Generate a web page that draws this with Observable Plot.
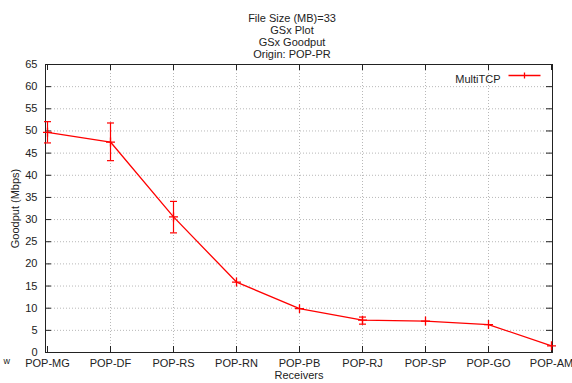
<!DOCTYPE html>
<html>
<head>
<meta charset="utf-8">
<script src="https://cdn.jsdelivr.net/npm/d3@7"></script>
<script src="https://cdn.jsdelivr.net/npm/@observablehq/plot@0.6"></script>
<style>
  html, body { margin: 0; padding: 0; background: #fff; }
  svg { display: block; }
</style>
</head>
<body>
<div id="chart"></div>
<script>
const receivers = ["POP-MG","POP-DF","POP-RS","POP-RN","POP-PB","POP-RJ","POP-SP","POP-GO","POP-AM"];
const goodput   = [49.7, 47.5, 30.6, 15.9, 9.9, 7.3, 7.1, 6.3, 1.5];
const errLow    = [47.3, 43.3, 27.0, 15.6, 9.6, 6.4, 6.8, 6.0, 1.3];
const errHigh   = [52.1, 51.8, 34.1, 16.2, 10.2, 8.0, 7.4, 6.6, 1.7];
const yTicks = d3.range(0, 66, 5);
const titleLines = ["File Size (MB)=33", "GSx Plot", "GSx Goodput", "Origin: POP-PR"];
const seriesName = "MultiTCP";

const data = receivers.map((r, i) => ({r, v: goodput[i], lo: errLow[i], hi: errHigh[i]}));

const W = 572, H = 383;
const mL = 45, mR = 20, mT = 64, mB = 31;
const fw = W - mL - mR, fh = H - mT - mB;
const red = "#ff0000";
const grid = "#b8b8b8";
const frameCol = "#222";

const capSymbol = { draw(ctx, size) { ctx.moveTo(-3.5, 0); ctx.lineTo(3.5, 0); } };
const legendLine = { draw(ctx, size) { ctx.moveTo(-16, 0); ctx.lineTo(16, 0); ctx.moveTo(0, -3); ctx.lineTo(0, 3); } };

const titleMarks = titleLines.map((t, i) =>
  Plot.text([t], { frameAnchor: "top", dx: -7, dy: -50 + i * 12, fontSize: 11, fill: "#222" })
);

const chart = Plot.plot({
  width: W, height: H,
  marginLeft: mL, marginRight: mR, marginTop: mT, marginBottom: mB,
  style: { fontFamily: "'Liberation Sans', Arial, sans-serif", fontSize: "11px", color: "#222", background: "#fff" },
  x: { type: "point", domain: receivers, padding: 0, label: null },
  y: { domain: [0, 65], label: null },
  marks: [
    // grid
    Plot.ruleY(yTicks.slice(1, -1), { y: d => d, stroke: grid, strokeDasharray: "1,2", strokeWidth: 1 }),
    Plot.ruleX(receivers.slice(1, -1), { x: d => d, stroke: grid, strokeDasharray: "1,2", strokeWidth: 1 }),
    // inward ticks
    Plot.ruleY(yTicks, { y: d => d, stroke: frameCol, insetRight: fw - 6 }),
    Plot.ruleY(yTicks, { y: d => d, stroke: frameCol, insetLeft: fw - 6 }),
    Plot.ruleX(receivers, { x: d => d, stroke: frameCol, insetTop: fh - 6 }),
    Plot.ruleX(receivers, { x: d => d, stroke: frameCol, insetBottom: fh - 6 }),
    Plot.frame({ stroke: frameCol, strokeWidth: 1 }),
    // axes
    Plot.axisY(yTicks, { anchor: "left", tickSize: 0, tickPadding: 8, label: null, fontSize: 11 }),
    Plot.axisX(receivers, { anchor: "bottom", tickSize: 0, tickPadding: 7, label: null, fontSize: 11 }),
    // axis titles
    Plot.text(["Goodput (Mbps)"], { frameAnchor: "left", textAnchor: "middle", dx: -30, rotate: -90, fontSize: 11, fill: "#222" }),
    Plot.text(["Receivers"], { frameAnchor: "bottom", dy: 26, fontSize: 11, fill: "#222" }),
    Plot.text(["w"], { frameAnchor: "bottom-left", dx: -42, dy: 11, fontSize: 9, fill: "#222" }),
    // titles
    ...titleMarks,
    // data
    Plot.ruleX(data.filter(d => d.hi - d.lo > 1), { x: "r", y1: "lo", y2: "hi", stroke: red, strokeWidth: 1.2 }),
    Plot.dot(data.filter(d => d.hi - d.lo > 1), { x: "r", y: "lo", symbol: capSymbol, stroke: red, strokeWidth: 1.2, r: 3 }),
    Plot.dot(data.filter(d => d.hi - d.lo > 1), { x: "r", y: "hi", symbol: capSymbol, stroke: red, strokeWidth: 1.2, r: 3 }),
    Plot.line(data, { x: "r", y: "v", stroke: red, strokeWidth: 1.3 }),
    Plot.dot(data, { x: "r", y: "v", symbol: "plus", stroke: red, strokeWidth: 1.3, r: 3 }),
    // legend
    Plot.text([seriesName], { frameAnchor: "top-right", dx: -52, dy: 11, textAnchor: "end", fontSize: 11, fill: "#222" }),
    Plot.dot([seriesName], { frameAnchor: "top-right", dx: -28, dy: 11, symbol: legendLine, stroke: red, strokeWidth: 1.3, r: 3 })
  ]
});
document.getElementById("chart").appendChild(chart);
</script>
</body>
</html>
